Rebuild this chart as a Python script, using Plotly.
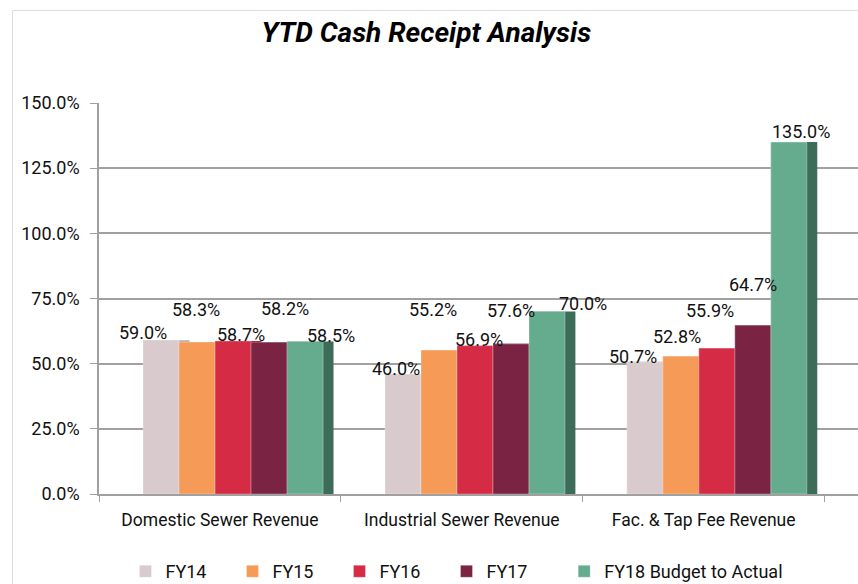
import plotly.graph_objects as go

categories = ["Domestic Sewer Revenue", "Industrial Sewer Revenue", "Fac. & Tap Fee Revenue"]
series_names = ["FY14", "FY15", "FY16", "FY17", "FY18 Budget to Actual"]
fy14 = [59.0, 46.0, 50.7]
fy15 = [58.3, 55.2, 52.8]
fy16 = [58.7, 56.9, 55.9]
fy17 = [58.2, 57.6, 64.7]
fy18 = [58.5, 70.0, 135.0]
series_values = [fy14, fy15, fy16, fy17, fy18]
y_ticks = [0, 25, 50, 75, 100, 125, 150]

# styles / positions
front_colors = ["#d9cbcd", "#f59b57", "#d62b45", "#7a2343", "#65ac8f"]
side_colors = ["#b9a5a8", "#d97c36", "#a81a31", "#5a1430", "#3d6c58"]
legend_of = ["legend", "legend", "legend", "legend", "legend2"]
label_dx = [[-18.5, -7.4, -11.8], [-1, -5.7, -4.2], [8, 4.3, -6.8], [15.5, 0, 0], [25.5, 35.6, 12.5]]
label_dy = [[7.6, 6, 5.3], [33, 41, 20], [6, 6.5, 38], [34, 33, 41], [5.6, 7.6, 11]]

FONT = "Roboto, Liberation Sans, sans-serif"
FS = 18
slot = 0.1488
first_off = -0.3174
side_w = 0.043
PW = 759.5  # plot width px
PL = 98.5   # plot left px
PT = 102.7
PB = 494.3
PH = PB - PT

fig = go.Figure()
annotations = []
for i, (name, vals) in enumerate(zip(series_names, series_values)):
    off = first_off + i * slot
    fig.add_trace(go.Bar(x=categories, y=vals, offset=off, width=slot + side_w,
                         marker=dict(color=side_colors[i], line=dict(width=0)),
                         showlegend=False, hoverinfo="skip"))
    fig.add_trace(go.Bar(x=categories, y=vals, offset=off, width=slot, name=name,
                         legend=legend_of[i],
                         marker=dict(color=front_colors[i], line=dict(width=0.6, color="rgba(255,255,255,0.5)")),
                         hoverinfo="skip"))
    for j, v in enumerate(vals):
        annotations.append(dict(x=j + off + slot / 2, y=v, xref="x", yref="y",
                                text=f"{v:.1f}%", showarrow=False,
                                xshift=label_dx[i][j], yshift=label_dy[i][j],
                                yanchor="middle", xanchor="center",
                                font=dict(family=FONT, size=FS, color="#111111")))

leg_font = dict(family=FONT, size=FS, color="#111111")
leg_y = (PB - 572) / PH
fig.update_layout(
    width=858, height=584,
    margin=dict(l=PL, r=0, t=PT, b=584 - PB, autoexpand=False),
    paper_bgcolor="white", plot_bgcolor="white",
    barmode="overlay",
    title=dict(text="<b><i>YTD Cash Receipt Analysis</i></b>", x=(426 - PL) / PW, xref="paper", xanchor="center",
               y=1 - 32 / 584, yanchor="middle", yref="container",
               font=dict(family=FONT, size=28, color="#000000")),
    font=dict(family=FONT, size=FS, color="#111111"),
    legend=dict(orientation="h", x=(125 - PL) / PW, xanchor="left", y=leg_y, yanchor="middle",
                font=leg_font, entrywidth=62, entrywidthmode="pixels", itemwidth=30,
                traceorder="normal"),
    legend2=dict(orientation="h", x=(564 - PL) / PW, xanchor="left", y=leg_y, yanchor="middle",
                 font=leg_font, itemwidth=30),
    annotations=annotations,
    shapes=[dict(type="rect", xref="paper", yref="paper", x0=(12 - PL) / PW, x1=1.02,
                 y0=(PB - 600) / PH, y1=(PB - 10) / PH,
                 line=dict(color="#dcdcdc", width=1), layer="below")],
)
fig.update_xaxes(type="category", categoryorder="array", categoryarray=categories,
                 range=[-0.5, 2.638], tickson="boundaries", ticks="outside", ticklen=6,
                 tickcolor="#a0a0a0", showline=True, linecolor="#a0a0a0", linewidth=1.5,
                 showgrid=False, ticklabelstandoff=9, tickfont=dict(family=FONT, size=17.5, color="#111111"))
fig.update_yaxes(range=[0, 150], tickvals=y_ticks, ticktext=[f"{t:.1f}%" for t in y_ticks],
                 ticks="outside", ticklen=7, tickcolor="#a0a0a0", showline=True,
                 linecolor="#a0a0a0", linewidth=1.5, showgrid=True, gridcolor="#a0a0a0",
                 gridwidth=1.5, zeroline=False, ticklabelstandoff=7,
                 tickfont=dict(family=FONT, size=FS, color="#111111"))

fig.write_html("out.html", config={"displayModeBar": False},
               post_script="document.body.style.margin='0';")
